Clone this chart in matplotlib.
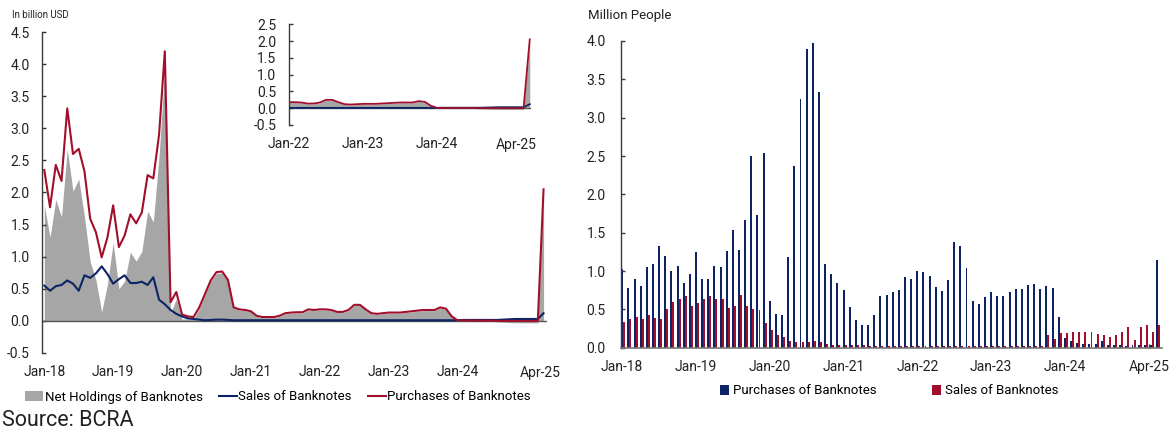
import numpy as np
import matplotlib
matplotlib.use("Agg")
import matplotlib.pyplot as plt
from matplotlib.patches import Patch
from matplotlib.lines import Line2D

plt.rcParams['font.family'] = ['Roboto', 'DejaVu Sans']
plt.rcParams['axes.unicode_minus'] = False

# ---------------- data (monthly, Jan-18 .. Apr-25) ----------------
# Left chart: billion USD
purchases_usd = [2.35, 1.77, 2.43, 2.18, 3.31, 2.60, 2.68, 2.33, 1.59, 1.38, 0.99, 1.30,
                 1.80, 1.15, 1.33, 1.66, 1.52, 1.69, 2.27, 2.22, 2.90, 4.20, 0.29, 0.45,
                 0.10, 0.07, 0.06, 0.21, 0.42, 0.63, 0.76, 0.77, 0.64, 0.21, 0.18, 0.17,
                 0.15, 0.08, 0.06, 0.06, 0.06, 0.08, 0.12, 0.13, 0.135, 0.135, 0.18, 0.17,
                 0.18, 0.18, 0.17, 0.14, 0.14, 0.17, 0.25, 0.25, 0.18, 0.12, 0.11, 0.12,
                 0.13, 0.13, 0.13, 0.14, 0.15, 0.16, 0.17, 0.17, 0.17, 0.21, 0.19, 0.07,
                 0.01, 0.01, 0.005, 0.005, 0.005, 0.005, 0.005, 0.0, 0.0, 0.0, 0.0, 0.0,
                 0.0, 0.0, 0.0, 2.05]
sales_usd = [0.55, 0.47, 0.54, 0.56, 0.63, 0.58, 0.47, 0.71, 0.67, 0.74, 0.85, 0.73,
             0.58, 0.65, 0.71, 0.59, 0.59, 0.61, 0.56, 0.68, 0.33, 0.26, 0.17, 0.11,
             0.07, 0.04, 0.03, 0.02, 0.01, 0.015, 0.02, 0.02, 0.015, 0.01, 0.01, 0.01,
             0.01, 0.01, 0.01, 0.01, 0.01, 0.01, 0.01, 0.01, 0.01, 0.01, 0.01, 0.01,
             0.01, 0.01, 0.01, 0.01, 0.01, 0.01, 0.01, 0.01, 0.01, 0.01, 0.01, 0.01,
             0.01, 0.01, 0.01, 0.01, 0.01, 0.01, 0.01, 0.01, 0.01, 0.01, 0.01, 0.01,
             0.01, 0.015, 0.015, 0.015, 0.015, 0.015, 0.015, 0.015, 0.02, 0.025, 0.03, 0.03,
             0.03, 0.03, 0.03, 0.12]
net_holdings_usd = np.array(purchases_usd) - np.array(sales_usd)

# Right chart: million people
purchases_people = [1.02, 0.78, 0.90, 0.81, 1.05, 1.09, 1.33, 1.19, 1.00, 1.06, 0.85, 0.96,
                    1.25, 0.90, 0.90, 1.06, 1.05, 1.26, 1.53, 1.27, 1.66, 2.50, 1.73, 2.54,
                    0.61, 0.44, 0.43, 1.18, 2.37, 3.25, 3.89, 3.97, 3.34, 1.09, 0.96, 0.84,
                    0.75, 0.53, 0.36, 0.30, 0.30, 0.43, 0.68, 0.69, 0.73, 0.75, 0.92, 0.90,
                    1.00, 0.99, 0.93, 0.79, 0.74, 0.88, 1.38, 1.33, 1.04, 0.61, 0.57, 0.66,
                    0.72, 0.67, 0.67, 0.72, 0.76, 0.77, 0.82, 0.83, 0.77, 0.81, 0.78, 0.40,
                    0.13, 0.09, 0.06, 0.05, 0.05, 0.05, 0.09, 0.04, 0.04, 0.03, 0.02, 0.03,
                    0.03, 0.03, 0.03, 1.15]
sales_people = [0.34, 0.37, 0.40, 0.37, 0.42, 0.39, 0.37, 0.51, 0.60, 0.63, 0.67, 0.55,
                0.58, 0.64, 0.67, 0.63, 0.64, 0.52, 0.54, 0.69, 0.55, 0.50, 0.49, 0.32,
                0.23, 0.17, 0.14, 0.09, 0.07, 0.07, 0.08, 0.09, 0.08, 0.05, 0.035, 0.03,
                0.03, 0.04, 0.035, 0.035, 0.02, 0.02, 0.02, 0.02, 0.02, 0.02, 0.02, 0.02,
                0.02, 0.02, 0.02, 0.02, 0.02, 0.02, 0.02, 0.02, 0.02, 0.02, 0.02, 0.02,
                0.02, 0.02, 0.02, 0.02, 0.02, 0.02, 0.02, 0.02, 0.02, 0.17, 0.11, 0.19,
                0.19, 0.20, 0.20, 0.20, 0.20, 0.18, 0.17, 0.14, 0.17, 0.20, 0.27, 0.10,
                0.27, 0.29, 0.21, 0.30]

tick_labels_main = ["Jan-18", "Jan-19", "Jan-20", "Jan-21", "Jan-22", "Jan-23", "Jan-24", "Apr-25"]
tick_labels_inset = ["Jan-22", "Jan-23", "Jan-24", "Apr-25"]

# ---------------- styling ----------------
RED = "#A10F2B"
NAVY = "#0C2466"
GREY = "#A6A6A6"
AXC = "#3a3a3a"
W, H = 1174, 432

x = np.arange(len(purchases_usd))

fig = plt.figure(figsize=(W / 100, H / 100), dpi=100)

def fbox(l, t, r, b):
    return [l / W, 1 - b / H, (r - l) / W, (b - t) / H]

def style_y(ax, pad):
    for s in ["top", "right", "bottom"]:
        ax.spines[s].set_visible(False)
    ax.spines["left"].set_color(AXC)
    ax.spines["left"].set_linewidth(1.0)
    ax.tick_params(axis="y", direction="in", length=3, width=1, color=AXC,
                   labelsize=10, pad=pad, labelcolor="#222222")
    ax.tick_params(axis="x", length=0, labelsize=10, labelcolor="#222222")

# ---- left main chart ----
ax1 = fig.add_axes(fbox(42, 32, 547, 353))
ax1.fill_between(x, 0, net_holdings_usd, color=GREY, lw=0, zorder=1)
ax1.plot(x, sales_usd, color=NAVY, lw=1.5, zorder=3)
ax1.plot(x, purchases_usd, color=RED, lw=1.5, zorder=4)
ax1.axhline(0, color="#555555", lw=1.0, zorder=2)
ax1.set_ylim(-0.5, 4.5)
ax1.set_xlim(-0.4, 87.6)
ax1.set_yticks(np.arange(-0.5, 4.51, 0.5))
ax1.set_yticklabels([f"{v:.1f}" for v in np.arange(-0.5, 4.51, 0.5)])
ax1.set_xticks([0, 12, 24, 36, 48, 60, 72, 86.5])
ax1.set_xticklabels(tick_labels_main)
style_y(ax1, 9)
ax1.tick_params(axis="x", pad=9)

# ---- inset ----
ax2 = fig.add_axes(fbox(289, 24.3, 531, 125))
xi = x[48:]
ax2.fill_between(xi, 0, net_holdings_usd[48:], color=GREY, lw=0, zorder=1)
ax2.plot(xi, sales_usd[48:], color=NAVY, lw=1.3, zorder=3)
ax2.plot(xi, purchases_usd[48:], color=RED, lw=1.3, zorder=4)
ax2.axhline(0, color="#555555", lw=1.0, zorder=2)
ax2.set_ylim(-0.5, 2.5)
ax2.set_xlim(48, 87.2)
ax2.set_yticks(np.arange(-0.5, 2.51, 0.5))
ax2.set_yticklabels([f"{v:.1f}" for v in np.arange(-0.5, 2.51, 0.5)])
ax2.set_xticks([48, 60, 72, 84.8])
ax2.set_xticklabels(tick_labels_inset)
style_y(ax2, 9)
ax2.tick_params(axis="x", pad=9)
ax2.patch.set_alpha(0)

# ---- right bar chart ----
ax3 = fig.add_axes(fbox(621, 41, 1162, 347.7))
bw = 0.32
ax3.bar(x, purchases_people, width=bw, color=NAVY, lw=0, zorder=2)
ax3.bar(x + 0.33, sales_people, width=bw, color=RED, lw=0, zorder=2)
ax3.set_ylim(0, 4.0)
ax3.set_xlim(-0.2, 87.8)
ax3.set_yticks(np.arange(0, 4.01, 0.5))
ax3.set_yticklabels([f"{v:.1f}" for v in np.arange(0, 4.01, 0.5)])
ax3.set_xticks([0, 12, 24, 36, 48, 60, 72, 85.7])
ax3.set_xticklabels(tick_labels_main)
style_y(ax3, 11)
ax3.spines["bottom"].set_visible(True)
ax3.spines["bottom"].set_color("#777777")
ax3.spines["bottom"].set_linewidth(1.2)
ax3.tick_params(axis="x", direction="in", length=3, width=1, color=AXC, pad=9)

# ---- texts ----
fig.text(12 / W, 1 - 15 / H, "In billion USD", fontsize=7, va="center", ha="left", color="#222222")
fig.text(588 / W, 1 - 16 / H, "Million People", fontsize=9.5, va="center", ha="left", color="#222222")
fig.text(2 / W, 1 - 420 / H, "Source: BCRA", fontsize=15.5, va="center", ha="left", color="#222222")

# ---- legends ----
h1 = [Patch(facecolor=GREY, edgecolor="none"),
      Line2D([0], [0], color=NAVY, lw=1.5),
      Line2D([0], [0], color=RED, lw=1.5)]
fig.legend(h1, ["Net Holdings of Banknotes", "Sales of Banknotes", "Purchases of Banknotes"],
           loc="center", bbox_to_anchor=(278 / W, 1 - 397 / H), ncol=3, frameon=False,
           fontsize=9.5, handlelength=1.4, handletextpad=0.1, columnspacing=1.2,
           borderpad=0, borderaxespad=0)
h2 = [Patch(facecolor=NAVY, edgecolor="none"), Patch(facecolor=RED, edgecolor="none")]
fig.legend(h2, ["Purchases of Banknotes", "Sales of Banknotes"],
           loc="center", bbox_to_anchor=(889 / W, 1 - 391 / H), ncol=2, frameon=False,
           fontsize=9.5, handlelength=0.7, handleheight=0.7, handletextpad=0.3,
           columnspacing=4.2, borderpad=0, borderaxespad=0)

fig.savefig("out.png", dpi=100)
